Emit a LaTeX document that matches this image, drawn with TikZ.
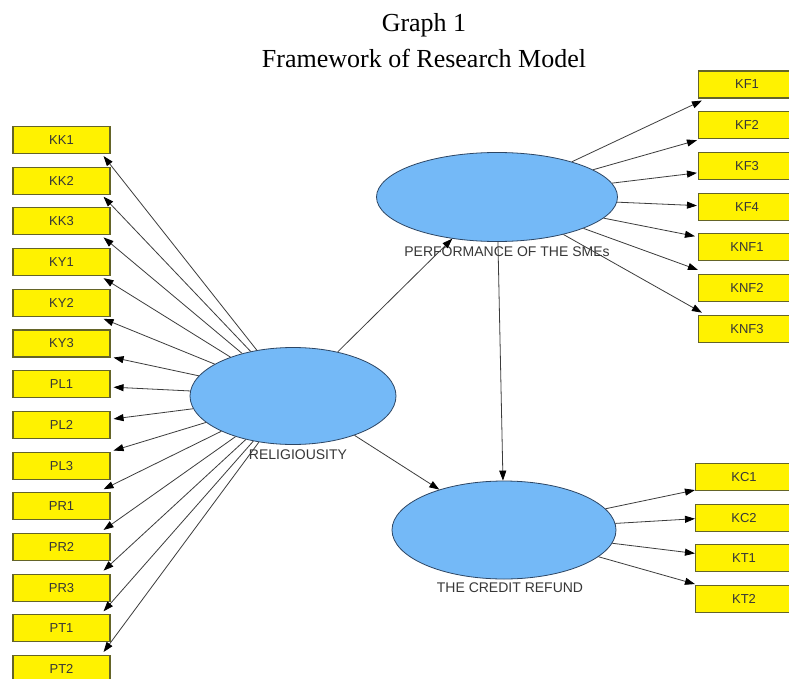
\documentclass[tikz,border=0pt]{standalone}
\usepackage{fontspec}
\setmainfont{Liberation Serif}
\newfontfamily\arialf{Liberation Sans}
\usetikzlibrary{shapes.geometric,arrows.meta,calc}
\definecolor{latfill}{RGB}{116,185,247}
\definecolor{latdraw}{RGB}{45,70,100}
\definecolor{boxdraw}{RGB}{100,100,40}
\definecolor{linec}{RGB}{60,60,60}
\definecolor{txtc}{RGB}{55,55,55}
\begin{document}
\begin{tikzpicture}[x=1pt,y=-1pt,
  ind/.style={draw=boxdraw,line width=1.1pt,fill=yellow,minimum width=97pt,minimum height=27pt,inner sep=0pt,
     font=\arialf\fontsize{13}{13}\selectfont,text=txtc},
  lat/.style={ellipse,draw=latdraw,line width=0.8pt,fill=latfill,inner sep=0pt},
  latlab/.style={font=\arialf\fontsize{14}{14}\selectfont,text=txtc,inner sep=0pt},
  arr/.style={draw=linec,line width=0.8pt,-{Triangle[length=10pt,width=7pt,color=black]}},
  ttl/.style={font=\fontsize{26}{26}\selectfont,inner sep=0pt}]
\useasboundingbox (0,0) rectangle (789,679);
\clip (0,0) rectangle (789,679);
\fill[white] (0,0) rectangle (789,679);

\node[ttl] (t1) at (424,25) {Graph 1};
\node[ttl] (t2) at (424,58) {Framework of Research Model};

% latent variables
\node[lat,minimum width=206pt,minimum height=97pt] (rel) at (293,396) {};
\node[lat,minimum width=241pt,minimum height=89pt] (perf) at (497,197) {};
\node[lat,minimum width=224pt,minimum height=98pt] (cred) at (504,530) {};
\node[latlab] (rellab) at (298,455) {RELIGIOUSITY};
\node[latlab] (perflab) at (507,252) {PERFORMANCE OF THE SMEs};
\node[latlab] (credlab) at (510,588) {THE CREDIT REFUND};

% left indicators
\foreach \n [count=\i from 0] in {KK1,KK2,KK3,KY1,KY2,KY3,PL1,PL2,PL3,PR1,PR2,PR3,PT1,PT2}
  \node[ind] (\n) at (61.5,{140+40.7*\i}) {\n};
% right top indicators
\foreach \n [count=\i from 0] in {KF1,KF2,KF3,KF4,KNF1,KNF2,KNF3}
  \node[ind] (\n) at (747,{84.5+40.7*\i}) {\n};
% right bottom indicators
\foreach \n [count=\i from 0] in {KC1,KC2,KT1,KT2}
  \node[ind] (\n) at (744,{477+40.7*\i}) {\n};

% religiousity -> left indicators
\foreach \n in {KK1,KK2,KK3,KY1,KY2}
  \draw[arr] (rel) -- ($(\n.south east)+(-7,2)$);
\draw[arr] (rel) -- ($(KY3.south east)+(3,0)$);
\draw[arr] (rel) -- ($(PL1.east)+(3,3)$);
\draw[arr] (rel) -- ($(PL2.east)+(3,-6)$);
\draw[arr] (rel) -- ($(PL3.north east)+(3,-1)$);
\foreach \n in {PR1,PR2,PR3,PT1,PT2}
  \draw[arr] (rel) -- ($(\n.north east)+(-7,-3)$);

% performance -> right indicators
\draw[arr] (perf) -- ($(KF1.south west)+(4,2)$);
\draw[arr] (perf) -- ($(KF2.south west)+(-1,1)$);
\draw[arr] (perf) -- ($(KF3.west)+(-1,7)$);
\draw[arr] (perf) -- ($(KF4.west)+(-1,-1)$);
\draw[arr] (perf) -- ($(KNF1.north west)+(-3,3)$);
\draw[arr] (perf) -- ($(KNF2.north west)+(0,-4)$);
\draw[arr] (perf) -- ($(KNF3.north west)+(4,-2)$);

% credit -> right indicators
\draw[arr] (cred) -- ($(KC1.south west)+(0,-1)$);
\draw[arr] (cred) -- ($(KC2.west)+(0,1)$);
\draw[arr] (cred) -- ($(KT1.west)+(0,-5)$);
\draw[arr] (cred) -- ($(KT2.north west)+(0,-1)$);

% structural paths
\draw[arr] (rel) -- (perf.223);
\draw[arr] (rel) -- (cred.148);
\draw[arr] (perf) -- (cred);
\end{tikzpicture}
\end{document}
